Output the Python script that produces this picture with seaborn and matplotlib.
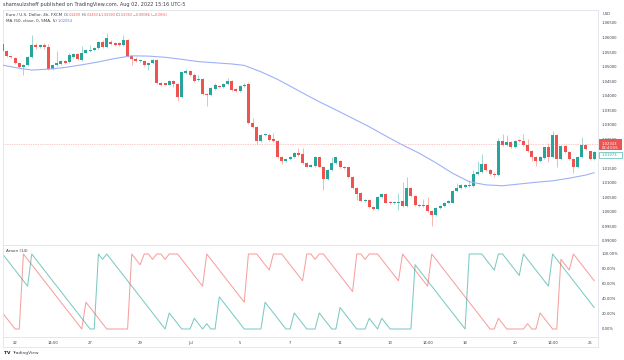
import matplotlib
matplotlib.use('Agg')
import matplotlib.pyplot as plt
import matplotlib.transforms as mtransforms
from matplotlib.lines import Line2D
from matplotlib.patches import Rectangle
import pandas as pd
import seaborn as sns

# EUR/USD 4h candles, one entry per bar
opens = [
    1.0578, 1.0555, 1.0536, 1.0529, 1.0513, 1.0497, 1.0506, 1.0532, 1.0575, 1.0566,
    1.0574, 1.0568, 1.0492, 1.0505, 1.0509, 1.0518, 1.0516, 1.0534, 1.0543, 1.0523,
    1.0548, 1.0553, 1.0557, 1.0564, 1.0585, 1.0568, 1.0585, 1.0580, 1.0580, 1.0575,
    1.0591, 1.0536, 1.0525, 1.0518, 1.0519, 1.0504, 1.0512, 1.0523, 1.0444, 1.0442,
    1.0438, 1.0451, 1.0440, 1.0396, 1.0479, 1.0484, 1.0471, 1.0454, 1.0458, 1.0406,
    1.0401, 1.0423, 1.0433, 1.0430, 1.0440, 1.0451, 1.0423, 1.0417, 1.0433, 1.0439,
    1.0307, 1.0291, 1.0245, 1.0264, 1.0266, 1.0250, 1.0243, 1.0188, 1.0174, 1.0181,
    1.0188, 1.0202, 1.0199, 1.0169, 1.0156, 1.0158, 1.0188, 1.0156, 1.0112, 1.0144,
    1.0169, 1.0174, 1.0156, 1.0153, 1.0121, 1.0082, 1.0064, 1.0039, 1.0041, 1.0016,
    1.0009, 1.0052, 1.0062, 1.0034, 1.0030, 1.0031, 1.0037, 1.0020, 1.0082, 1.0055,
    1.0025, 1.0025, 1.0023, 1.0002, 0.9990, 1.0013, 1.0020, 1.0032, 1.0032, 1.0071,
    1.0082, 1.0087, 1.0094, 1.0089, 1.0130, 1.0137, 1.0165, 1.0144, 1.0130, 1.0126,
    1.0243, 1.0231, 1.0240, 1.0224, 1.0247, 1.0243, 1.0231, 1.0210, 1.0190, 1.0176,
    1.0185, 1.0222, 1.0190, 1.0264, 1.0181, 1.0227, 1.0206, 1.0181, 1.0153, 1.0188,
    1.0231, 1.0208, 1.0183,
]
highs = [
    1.0581, 1.0558, 1.0540, 1.0532, 1.0516, 1.0509, 1.0535, 1.0608, 1.0580, 1.0578,
    1.0580, 1.0578, 1.0507, 1.0555, 1.0521, 1.0521, 1.0546, 1.0547, 1.0548, 1.0571,
    1.0560, 1.0575, 1.0567, 1.0589, 1.0590, 1.0614, 1.0590, 1.0583, 1.0584, 1.0608,
    1.0594, 1.0539, 1.0532, 1.0526, 1.0523, 1.0515, 1.0527, 1.0527, 1.0447, 1.0445,
    1.0453, 1.0454, 1.0443, 1.0484, 1.0491, 1.0487, 1.0477, 1.0471, 1.0461, 1.0409,
    1.0429, 1.0443, 1.0436, 1.0443, 1.0461, 1.0454, 1.0426, 1.0436, 1.0445, 1.0448,
    1.0323, 1.0294, 1.0267, 1.0273, 1.0270, 1.0273, 1.0246, 1.0191, 1.0184, 1.0191,
    1.0205, 1.0220, 1.0220, 1.0172, 1.0166, 1.0191, 1.0190, 1.0159, 1.0147, 1.0190,
    1.0190, 1.0178, 1.0159, 1.0156, 1.0124, 1.0085, 1.0067, 1.0045, 1.0044, 1.0019,
    1.0055, 1.0065, 1.0065, 1.0037, 1.0038, 1.0064, 1.0103, 1.0121, 1.0085, 1.0058,
    1.0028, 1.0045, 1.0052, 1.0005, 1.0016, 1.0023, 1.0035, 1.0040, 1.0074, 1.0098,
    1.0095, 1.0097, 1.0110, 1.0144, 1.0174, 1.0199, 1.0168, 1.0147, 1.0138, 1.0253,
    1.0268, 1.0264, 1.0243, 1.0248, 1.0250, 1.0268, 1.0252, 1.0213, 1.0193, 1.0191,
    1.0225, 1.0236, 1.0279, 1.0267, 1.0230, 1.0230, 1.0209, 1.0184, 1.0191, 1.0257,
    1.0234, 1.0211, 1.0209,
]
lows = [
    1.0550, 1.0533, 1.0528, 1.0510, 1.0494, 1.0471, 1.0503, 1.0528, 1.0562, 1.0563,
    1.0562, 1.0487, 1.0488, 1.0501, 1.0506, 1.0510, 1.0512, 1.0530, 1.0521, 1.0519,
    1.0545, 1.0550, 1.0554, 1.0561, 1.0565, 1.0565, 1.0575, 1.0572, 1.0572, 1.0572,
    1.0533, 1.0505, 1.0515, 1.0515, 1.0501, 1.0488, 1.0509, 1.0441, 1.0434, 1.0435,
    1.0435, 1.0430, 1.0383, 1.0393, 1.0476, 1.0467, 1.0448, 1.0451, 1.0402, 1.0364,
    1.0398, 1.0420, 1.0427, 1.0427, 1.0437, 1.0416, 1.0414, 1.0414, 1.0430, 1.0304,
    1.0288, 1.0234, 1.0242, 1.0261, 1.0244, 1.0240, 1.0185, 1.0165, 1.0171, 1.0178,
    1.0185, 1.0194, 1.0166, 1.0153, 1.0153, 1.0155, 1.0153, 1.0075, 1.0110, 1.0141,
    1.0166, 1.0150, 1.0148, 1.0118, 1.0079, 1.0041, 1.0036, 1.0035, 1.0013, 1.0005,
    1.0006, 1.0049, 1.0029, 1.0027, 1.0026, 1.0007, 1.0017, 1.0017, 1.0052, 1.0020,
    1.0017, 1.0017, 0.9999, 0.9952, 0.9987, 1.0010, 1.0017, 1.0029, 1.0029, 1.0068,
    1.0079, 1.0084, 1.0086, 1.0086, 1.0127, 1.0134, 1.0141, 1.0127, 1.0120, 1.0123,
    1.0226, 1.0228, 1.0221, 1.0221, 1.0240, 1.0228, 1.0207, 1.0174, 1.0158, 1.0173,
    1.0182, 1.0173, 1.0187, 1.0156, 1.0178, 1.0203, 1.0180, 1.0133, 1.0150, 1.0185,
    1.0212, 1.0180, 1.0180,
]
closes = [
    1.0554, 1.0536, 1.0532, 1.0513, 1.0497, 1.0506, 1.0532, 1.0575, 1.0566, 1.0574,
    1.0566, 1.0491, 1.0504, 1.0512, 1.0518, 1.0513, 1.0539, 1.0543, 1.0525, 1.0548,
    1.0557, 1.0557, 1.0564, 1.0585, 1.0568, 1.0598, 1.0578, 1.0575, 1.0575, 1.0591,
    1.0536, 1.0525, 1.0519, 1.0523, 1.0504, 1.0512, 1.0523, 1.0444, 1.0438, 1.0438,
    1.0450, 1.0440, 1.0396, 1.0481, 1.0484, 1.0470, 1.0451, 1.0458, 1.0406, 1.0401,
    1.0426, 1.0435, 1.0430, 1.0440, 1.0451, 1.0419, 1.0417, 1.0433, 1.0437, 1.0307,
    1.0291, 1.0245, 1.0264, 1.0268, 1.0247, 1.0243, 1.0188, 1.0174, 1.0181, 1.0188,
    1.0202, 1.0197, 1.0169, 1.0156, 1.0162, 1.0188, 1.0156, 1.0112, 1.0144, 1.0169,
    1.0188, 1.0153, 1.0151, 1.0121, 1.0082, 1.0062, 1.0039, 1.0041, 1.0016, 1.0009,
    1.0052, 1.0062, 1.0032, 1.0030, 1.0034, 1.0035, 1.0020, 1.0082, 1.0055, 1.0023,
    1.0020, 1.0020, 1.0002, 0.9990, 1.0013, 1.0020, 1.0032, 1.0037, 1.0071, 1.0082,
    1.0092, 1.0094, 1.0089, 1.0130, 1.0137, 1.0165, 1.0144, 1.0130, 1.0126, 1.0243,
    1.0229, 1.0240, 1.0224, 1.0245, 1.0243, 1.0231, 1.0210, 1.0190, 1.0176, 1.0188,
    1.0222, 1.0190, 1.0264, 1.0181, 1.0227, 1.0206, 1.0183, 1.0153, 1.0188, 1.0231,
    1.0215, 1.0183, 1.0206,
]

# MA(50) curve, sampled at a few bars
ma_bars = [0, 4, 7, 11, 15, 19, 23, 27, 31, 35, 39, 43, 47, 51, 55, 58, 62, 66, 70, 74,
           76, 80, 84, 88, 92, 96, 100, 104, 108, 112, 116, 120, 124, 128, 132, 136, 140, 142]
ma_vals = [1.0505, 1.0494, 1.0488, 1.0491, 1.0497, 1.0506, 1.0516, 1.0528, 1.0537, 1.0536,
           1.0532, 1.0525, 1.0517, 1.0513, 1.0509, 1.0504, 1.0482, 1.0456, 1.0425, 1.0394,
           1.0379, 1.0351, 1.0322, 1.0293, 1.0261, 1.0230, 1.0202, 1.0169, 1.0133, 1.0104,
           1.0093, 1.0090, 1.0096, 1.0102, 1.0107, 1.0116, 1.0127, 1.0135]

# Aroon(14) lines, vertices of the piecewise-linear traces
aroon_up_bars = [0, 6, 7, 21, 22, 23, 24, 25, 39, 40, 43, 45, 46, 48, 49, 50, 51, 52, 58, 62,
                 63, 68, 69, 70, 73, 75, 76, 79, 80, 81, 85, 87, 88, 90, 91, 93, 98, 99, 111, 112,
                 115, 118, 119, 120, 124, 125, 131, 132, 142]
aroon_up_vals = [100, 57.1, 100, 0, 0, 100, 92.9, 100, 0, 21.4, 0, 0, 14.3, 0, 7.1, 0, 0, 42.9, 0, 0,
                 35.7, 0, 0, 21.4, 0, 0, 21.4, 0, 0, 28.6, 0, 0, 14.3, 0, 14.3, 0, 0, 85.7, 0, 100,
                 100, 78.6, 100, 100, 71.4, 100, 57.1, 100, 28.6]
aroon_down_bars = [0, 3, 4, 5, 19, 20, 25, 30, 31, 33, 34, 35, 36, 37, 38, 39, 40, 42, 48, 49,
                   58, 59, 61, 64, 65, 67, 72, 73, 74, 75, 76, 77, 84, 85, 86, 87, 88, 90, 95, 96,
                   102, 103, 117, 118, 119, 121, 125, 126, 127, 128, 129, 132, 133, 134, 136, 137, 142]
aroon_down_vals = [21.4, 0, 0, 100, 0, 35.7, 0, 0, 100, 85.7, 100, 100, 92.9, 100, 100, 92.9, 100, 100, 57.1, 100,
                   35.7, 100, 100, 78.6, 100, 100, 64.3, 100, 100, 92.9, 100, 100, 50, 100, 100, 92.9, 100, 100, 64.3, 100,
                   57.1, 100, 0, 0, 14.3, 0, 0, 7.1, 0, 0, 21.4, 0, 0, 92.9, 78.6, 100, 64.3]

time_tick_bars = [3, 12, 21, 33, 45, 57, 69, 81, 93, 102, 111, 123, 132, 141]
time_tick_labels = ['22', '14:00', '27', '29', 'Jul', '5', '7', '11', '13', '14:00', '18', '20', '14:00', '25']
price_ticks = [0.990, 0.995, 1.000, 1.005, 1.010, 1.015, 1.020, 1.025, 1.030, 1.035,
               1.040, 1.045, 1.050, 1.055, 1.060, 1.065]
aroon_ticks = [0, 20, 40, 60, 80, 100]
last_price = 1.02343
bid_price = 1.01973

UP = '#26a69a'
DOWN = '#ef5350'
MA_COLOR = '#9cb2f7'
GRID = '#e0e3eb'
TXT = '#3a3e4a'

sns.set_style('white')
plt.rcParams['font.family'] = ['DejaVu Sans']

W, H = 624, 360


def box(x0, y0, x1, y1):
    """pixel box (top-left origin) -> figure fraction rect"""
    return [x0 / W, 1 - y1 / H, (x1 - x0) / W, (y1 - y0) / H]


def chain(first, pieces, size):
    """put coloured text pieces one after another on the same line"""
    prev = first
    for txt, col in pieces:
        prev = fig.axes[0].annotate(txt, xy=(1, 0), xycoords=prev, va='bottom', ha='left',
                                    fontsize=size, color=col, annotation_clip=False)
    return prev


fig = plt.figure(figsize=(W / 100, H / 100), dpi=100)
ax = fig.add_axes(box(3, 10, 598, 245))
ax_ar = fig.add_axes(box(3, 245, 598, 337), sharex=ax)

df = pd.DataFrame({'open': opens, 'high': highs, 'low': lows, 'close': closes})
df['bar'] = range(len(df))
df['up'] = df['close'] >= df['open']
df['color'] = df['up'].map({True: UP, False: DOWN})
df['bottom'] = df[['open', 'close']].min(axis=1)
df['height'] = (df['close'] - df['open']).abs().clip(lower=0.00012)

# candles
ax.vlines(df['bar'], df['low'], df['high'], colors=df['color'], linewidth=0.6, alpha=0.5, zorder=2)
ax.bar(df['bar'], df['height'], bottom=df['bottom'], width=0.7, color=df['color'], linewidth=0, zorder=3)

sns.lineplot(x=ma_bars, y=ma_vals, ax=ax, color=MA_COLOR, linewidth=0.8, zorder=4)
ax.axhline(last_price, color=DOWN, linewidth=0.5, linestyle=(0, (1, 1.5)), alpha=0.6, zorder=1)

ax.set_xlim(0.1, 142.9)
ax.set_ylim(0.98862, 1.06946)
ax.yaxis.tick_right()
ax.set_yticks(price_ticks)
ax.set_yticklabels(['' if abs(p - 1.02) < 1e-9 else f'{p:.5f}' for p in price_ticks])
ax.tick_params(axis='y', length=0, pad=2.5, labelsize=2.7, labelcolor=TXT)
ax.tick_params(axis='x', length=0, labelbottom=False)
ax.set_xlabel('')
ax.set_ylabel('')

# last price and bid labels on the price scale
tr = mtransforms.blended_transform_factory(ax.transAxes, ax.transData)
ax.add_patch(Rectangle((1.0017, 1.0213), 0.039, 0.0038, transform=tr, facecolor=DOWN,
                       edgecolor='none', clip_on=False, zorder=5))
ax.text(1.006, last_price, f'{last_price:.5f}', transform=tr, fontsize=2.7, color='white',
        va='center', ha='left', clip_on=False, zorder=6)
ax.text(1.006, 1.0221, '02:43:55', transform=tr, fontsize=2.7, color='white',
        va='center', ha='left', clip_on=False, zorder=6)
ax.add_patch(Rectangle((1.0017, 1.0186), 0.039, 0.0021, transform=tr, facecolor='white',
                       edgecolor=UP, linewidth=0.4, clip_on=False, zorder=5))
ax.text(1.006, bid_price, f'{bid_price:.5f}', transform=tr, fontsize=2.7, color=UP,
        va='center', ha='left', clip_on=False, zorder=6)
fig.text(603 / W, 1 - 14 / H, 'USD', fontsize=2.7, color=TXT, va='center')

# Aroon pane
sns.lineplot(x=aroon_up_bars, y=aroon_up_vals, ax=ax_ar, color=UP, linewidth=0.75, alpha=0.6)
sns.lineplot(x=aroon_down_bars, y=aroon_down_vals, ax=ax_ar, color=DOWN, linewidth=0.75, alpha=0.55)
ax_ar.set_ylim(-10.67, 112)
ax_ar.yaxis.tick_right()
ax_ar.set_yticks(aroon_ticks)
ax_ar.set_yticklabels([f'{v:.2f}%' for v in aroon_ticks])
ax_ar.tick_params(axis='y', length=0, pad=2.5, labelsize=2.7, labelcolor=TXT)
ax_ar.set_xticks(time_tick_bars)
ax_ar.set_xticklabels(time_tick_labels)
ax_ar.tick_params(axis='x', length=0, pad=3, labelsize=2.7, labelcolor=TXT)
ax_ar.set_xlabel('')
ax_ar.set_ylabel('')

for a in (ax, ax_ar):
    for s in a.spines.values():
        s.set_color(GRID)
        s.set_linewidth(0.6)

# time-axis strip borders
for xs, ys in [([3, 598], [347, 347]), ([598, 598], [337, 347]), ([3, 3], [337, 347])]:
    fig.add_artist(Line2D([x / W for x in xs], [1 - y / H for y in ys], color=GRID, linewidth=0.6))

fig.text(3 / W, 1 - 4.5 / H, 'shamsulzsheff published on TradingView.com, Aug 02, 2022 15:16 UTC-5',
         fontsize=3.6, color=TXT, va='center')

leg1 = fig.text(6 / W, 1 - 15 / H, 'Euro / U.S. Dollar, 4h, FXCM ', fontsize=3.0, color=TXT, va='center')
chain(leg1, [('O', TXT), ('1.02409 ', DOWN), ('H', TXT), ('1.02453 ', DOWN), ('L', TXT),
             ('1.02303 ', DOWN), ('C', TXT), ('1.02343 ', DOWN), ('\u22120.00066 (\u22120.06%)', DOWN)], 2.4)

leg2 = fig.text(6 / W, 1 - 21.5 / H, 'MA (50, close, 0, SMA, 5) ', fontsize=3.0, color=TXT, va='center')
chain(leg2, [('1.02054', '#5b7cf0')], 2.6)

leg3 = fig.text(6 / W, 1 - 250.5 / H, 'Aroon (14) ', fontsize=3.0, color=TXT, va='center')
chain(leg3, [('78.57% ', UP), ('21.43%', DOWN)], 2.8)

logo = fig.text(4 / W, 1 - 353 / H, 'TV ', fontsize=3.2, color='#131722', fontweight='bold', va='center')
chain(logo, [('TradingView', TXT)], 3.2)

fig.savefig('out.png', dpi=100, facecolor='white')
